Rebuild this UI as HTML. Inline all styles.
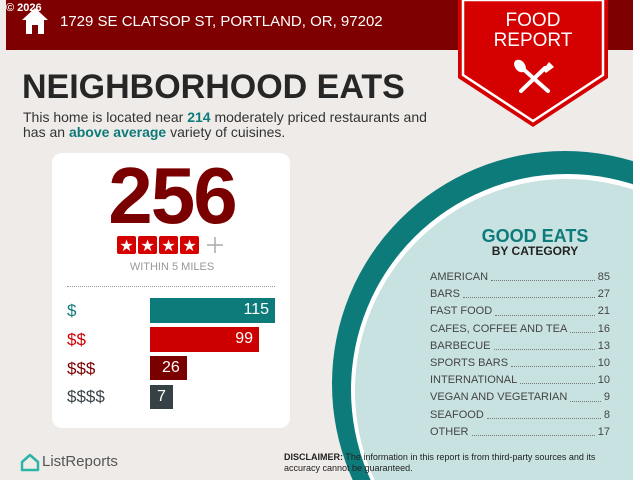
<!DOCTYPE html>
<html><head><style>
body{margin:0;width:640px;height:480px;overflow:hidden;background:#fff;font-family:"Liberation Sans",sans-serif;}
#p{position:absolute;left:0;top:0;width:633px;height:480px;background:#efebe8;overflow:hidden;}
.t{position:absolute;white-space:nowrap;}
</style></head><body>
<div id="p">
<div style="position:absolute;left:6px;top:0;width:627px;height:50px;background:#7f0000"></div>
<svg style="position:absolute;left:0;top:0" width="633" height="480">
<circle cx="565" cy="384" r="233" fill="#0e7b7b"/>
<circle cx="567" cy="390" r="216" fill="#fff"/>
<circle cx="567" cy="391" r="212" fill="#c8e2e1"/>
<polygon points="458,0 608,0 608,78 533,127 458,78" fill="#d50000"/>
<polygon points="463,0 603,0 603,75 533,121 463,75" fill="none" stroke="#fff" stroke-width="2.5"/>
<g stroke="#fff" stroke-width="4" stroke-linecap="round">
<line x1="522" y1="68" x2="548" y2="91"/><line x1="545" y1="68" x2="521" y2="91"/></g>
<ellipse cx="520" cy="66" rx="5" ry="7" fill="#fff" transform="rotate(-40 520 66)"/>
<path d="M543 70 l6 -8 l5 5 l-8 6z" fill="#fff"/>
<path d="M22 20 L35 8 L48 20 L44 20 L44 34 L26 34 L26 20z" fill="#fff"/>
<rect x="32" y="25" width="6" height="9" fill="#7f0000"/>
<path d="M22 470 l0 -8 l8 -7 l8 7 l0 8z" fill="none" stroke="#2bb5a6" stroke-width="2.5" stroke-linejoin="round"/>
</svg>
<div class="t" style="left:6px;top:2px;font-size:11px;color:#fff;font-weight:bold">© 2026</div>
<div class="t" style="left:60px;top:13px;font-size:15px;color:#fff">1729 SE CLATSOP ST, PORTLAND, OR, 97202</div>
<div class="t" style="left:458px;top:11px;width:150px;text-align:center;font-size:19px;line-height:20px;color:#fff">FOOD<br>REPORT</div>
<div class="t" style="left:22px;top:68px;font-size:34px;font-weight:bold;color:#262626">NEIGHBORHOOD EATS</div>
<div class="t" style="left:23px;top:110px;font-size:14px;line-height:15px;color:#333">This home is located near <b style="color:#0e7b7b">214</b> moderately priced restaurants and<br>has an <b style="color:#0e7b7b">above average</b> variety of cuisines.</div>
<div style="position:absolute;left:52px;top:153px;width:238px;height:275px;background:#fff;border-radius:10px"></div>
<div class="t" style="left:52px;top:154px;width:240px;text-align:center;font-size:80px;line-height:84px;font-weight:bold;color:#7a0000;letter-spacing:-2px">256</div>
<svg style="position:absolute;left:0;top:0" width="300" height="300">
<g fill="#d50000"><rect x="117" y="236" width="19" height="18" rx="2"/><rect x="138" y="236" width="19" height="18" rx="2"/><rect x="159" y="236" width="19" height="18" rx="2"/><rect x="180" y="236" width="19" height="18" rx="2"/></g>
<g fill="#fff" font-size="16" text-anchor="middle" font-family="DejaVu Sans"><text x="126.5" y="251">★</text><text x="147.5" y="251">★</text><text x="168.5" y="251">★</text><text x="189.5" y="251">★</text></g>
<path d="M215 237v16M207 245h16" stroke="#aaa" stroke-width="1.5"/>
</svg>
<div class="t" style="left:52px;top:261px;width:240px;text-align:center;font-size:11px;color:#999">WITHIN 5 MILES</div>
<div style="position:absolute;left:67px;top:286px;width:208px;border-top:1px dotted #999"></div>
<div class="t" style="left:67px;top:301px;font-size:17px;color:#0e7b7b">$</div>
<div class="t" style="left:67px;top:330px;font-size:17px;color:#c00">$$</div>
<div class="t" style="left:67px;top:359px;font-size:17px;color:#7a0000">$$$</div>
<div class="t" style="left:67px;top:387px;font-size:17px;color:#3a4448">$$$$</div>
<div style="position:absolute;left:150px;top:298px;width:125px;height:25px;background:#0e7b7b"></div>
<div style="position:absolute;left:150px;top:327px;width:109px;height:25px;background:#c00"></div>
<div style="position:absolute;left:150px;top:356px;width:37px;height:24px;background:#7a0000"></div>
<div style="position:absolute;left:150px;top:385px;width:23px;height:24px;background:#354144"></div>
<div class="t" style="left:150px;top:301px;width:119px;text-align:right;font-size:16px;color:#fff">115</div>
<div class="t" style="left:150px;top:330px;width:103px;text-align:right;font-size:16px;color:#fff">99</div>
<div class="t" style="left:162px;top:359px;font-size:16px;color:#fff">26</div>
<div class="t" style="left:157px;top:388px;font-size:16px;color:#fff">7</div>
<div class="t" style="left:42px;top:453px;font-size:15px;color:#555">ListReports</div>
<div class="t" style="left:284px;top:452px;font-size:9px;line-height:11px;color:#222"><b>DISCLAIMER:</b> The information in this report is from third-party sources and its<br>accuracy cannot be guaranteed.</div>
<div class="t" style="left:470px;top:226px;width:130px;text-align:center;font-size:18px;font-weight:bold;color:#0e7b7b">GOOD EATS</div>
<div class="t" style="left:470px;top:244px;width:130px;text-align:center;font-size:12px;font-weight:bold;color:#222">BY CATEGORY</div>
<div style="position:absolute;left:430px;top:269px;width:180px;font-size:11px;color:#444;line-height:17.2px">
<div style="display:flex"><span>AMERICAN</span><span style="flex:1;border-bottom:1px dotted #777;margin:0 3px 5px"></span><span>85</span></div>
<div style="display:flex"><span>BARS</span><span style="flex:1;border-bottom:1px dotted #777;margin:0 3px 5px"></span><span>27</span></div>
<div style="display:flex"><span>FAST FOOD</span><span style="flex:1;border-bottom:1px dotted #777;margin:0 3px 5px"></span><span>21</span></div>
<div style="display:flex"><span>CAFES, COFFEE AND TEA</span><span style="flex:1;border-bottom:1px dotted #777;margin:0 3px 5px"></span><span>16</span></div>
<div style="display:flex"><span>BARBECUE</span><span style="flex:1;border-bottom:1px dotted #777;margin:0 3px 5px"></span><span>13</span></div>
<div style="display:flex"><span>SPORTS BARS</span><span style="flex:1;border-bottom:1px dotted #777;margin:0 3px 5px"></span><span>10</span></div>
<div style="display:flex"><span>INTERNATIONAL</span><span style="flex:1;border-bottom:1px dotted #777;margin:0 3px 5px"></span><span>10</span></div>
<div style="display:flex"><span>VEGAN AND VEGETARIAN</span><span style="flex:1;border-bottom:1px dotted #777;margin:0 3px 5px"></span><span>9</span></div>
<div style="display:flex"><span>SEAFOOD</span><span style="flex:1;border-bottom:1px dotted #777;margin:0 3px 5px"></span><span>8</span></div>
<div style="display:flex"><span>OTHER</span><span style="flex:1;border-bottom:1px dotted #777;margin:0 3px 5px"></span><span>17</span></div>
</div>
</div>
</body></html>
